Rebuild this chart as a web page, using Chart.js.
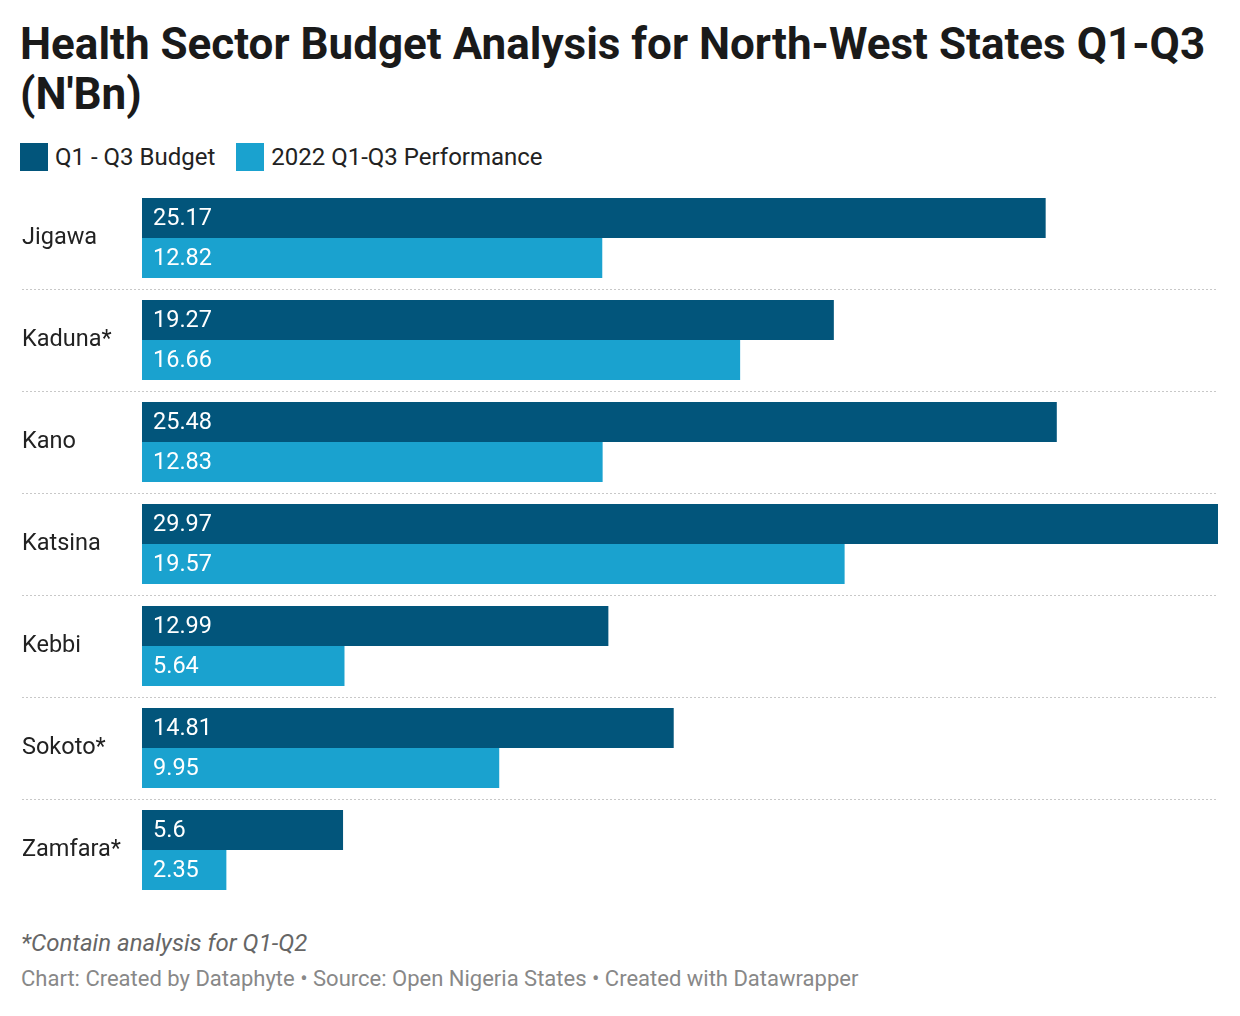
<!DOCTYPE html>
<html lang="en">
<head>
  <meta charset="UTF-8">
  <title>Health Sector Budget Analysis</title>
  <script src="https://cdn.jsdelivr.net/npm/chart.js"></script>
  <style>
    body { margin: 0; background: #fff; font-family: Roboto, sans-serif; }
    #wrap { position: relative; width: 1240px; height: 1016px; }
    h1 { position: absolute; left: 20px; top: 19px; margin: 0; font-size: 44px; line-height: 50px;
         font-weight: 700; color: #1a1a1a; width: 1215px; }
    .legend { position: absolute; left: 20px; top: 143px; display: flex; font-size: 24px; color: #222; }
    .legend span.item { display: flex; align-items: center; margin-right: 21px; }
    .legend i { display: inline-block; width: 28px; height: 28px; margin-right: 7px; }
    #chartBox { position: absolute; left: 0; top: 187px; width: 1240px; height: 714px; }
    .note { position: absolute; left: 21px; top: 929px; font-size: 24px; font-style: italic; color: #666; }
    .credit { position: absolute; left: 21px; top: 966px; font-size: 22px; color: #888; }
  </style>
</head>
<body>
<div id="wrap">
  <h1>Health Sector Budget Analysis for North-West States Q1-Q3 (N'Bn)</h1>
  <div class="legend">
    <span class="item"><i style="background:#02557b"></i>Q1 - Q3 Budget</span>
    <span class="item"><i style="background:#1aa2cf"></i>2022 Q1-Q3 Performance</span>
  </div>
  <div id="chartBox"><canvas id="chart"></canvas></div>
  <div class="note">*Contain analysis for Q1-Q2</div>
  <div class="credit">Chart: Created by Dataphyte • Source: Open Nigeria States • Created with Datawrapper</div>
</div>
<script>
  const states = ['Jigawa', 'Kaduna*', 'Kano', 'Katsina', 'Kebbi', 'Sokoto*', 'Zamfara*']
  const budget = [25.17, 19.27, 25.48, 29.97, 12.99, 14.81, 5.6]
  const performance = [12.82, 16.66, 12.83, 19.57, 5.64, 9.95, 2.35]

  const darkBlue = '#02557b'
  const lightBlue = '#1aa2cf'

  // dotted lines between the states and the numbers inside the bars
  const extras = {
    id: 'extras',
    afterDatasetsDraw(chart) {
      const ctx = chart.ctx
      const yScale = chart.scales.y
      const area = chart.chartArea
      ctx.save()
      ctx.strokeStyle = '#c8c8c8'
      ctx.lineWidth = 1
      ctx.setLineDash([2, 2])
      for (let i = 0; i < states.length - 1; i++) {
        const y = Math.round((yScale.getPixelForValue(i) + yScale.getPixelForValue(i + 1)) / 2) + 0.5
        ctx.beginPath()
        ctx.moveTo(22, y)
        ctx.lineTo(area.right, y)
        ctx.stroke()
      }
      ctx.setLineDash([])
      ctx.fillStyle = '#fff'
      ctx.font = '23.5px Roboto'
      ctx.textBaseline = 'middle'
      chart.data.datasets.forEach((ds, di) => {
        chart.getDatasetMeta(di).data.forEach((bar, i) => {
          ctx.fillText(String(ds.data[i]), bar.base + 11, bar.y + 1)
        })
      })
      ctx.restore()
    }
  }

  new Chart(document.getElementById('chart'), {
    type: 'bar',
    data: {
      labels: states,
      datasets: [
        { label: 'Q1 - Q3 Budget', data: budget, backgroundColor: darkBlue },
        { label: '2022 Q1-Q3 Performance', data: performance, backgroundColor: lightBlue }
      ]
    },
    options: {
      indexAxis: 'y',
      responsive: true,
      maintainAspectRatio: false,
      animation: false,
      layout: { padding: { left: 22, right: 22, top: 0, bottom: 0 } },
      datasets: { bar: { categoryPercentage: 80 / 102, barPercentage: 1.0 } },
      plugins: { legend: { display: false }, tooltip: { enabled: false } },
      scales: {
        x: { display: false, min: 0, max: 29.97 },
        y: {
          grid: { display: false },
          border: { display: false },
          ticks: { crossAlign: 'far', color: '#222', font: { family: 'Roboto', size: 23.5 }, padding: 0 },
          afterFit(scale) {
            scale.width = 120
            scale.paddingTop = 0
            scale.paddingBottom = 0
          }
        }
      }
    },
    plugins: [extras]
  })
</script>
</body>
</html>
